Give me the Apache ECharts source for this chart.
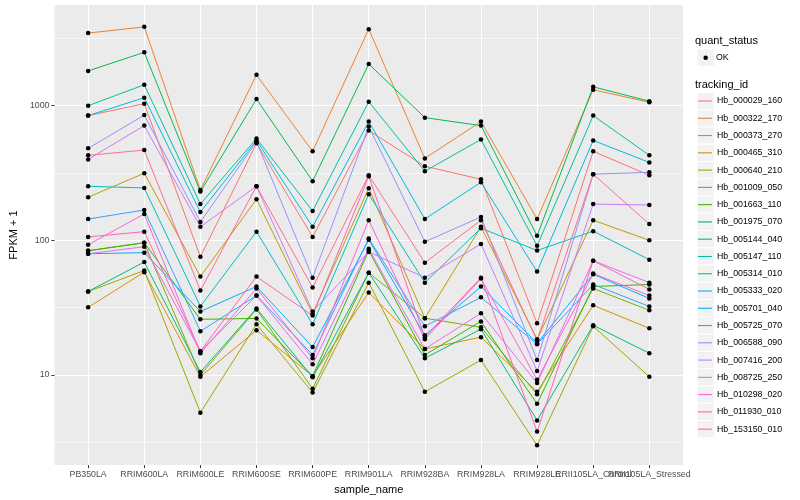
<!DOCTYPE html>
<html><head><meta charset="utf-8">
<script src="https://cdn.jsdelivr.net/npm/echarts@6/dist/echarts.min.js"></script>
<style>html,body{margin:0;padding:0;background:#fff}#c{width:800px;height:500px}</style>
</head><body><div id="c"></div>
<script>
const samples = ['PB350LA','RRIM600LA','RRIM600LE','RRIM600SE','RRIM600PE','RRIM901LA','RRIM928BA','RRIM928LA','RRIM928LE','RRII105LA_Control','RRII105LA_Stressed'];
const trackingIds = ['Hb_000029_160','Hb_000322_170','Hb_000373_270','Hb_000465_310','Hb_000640_210','Hb_001009_050','Hb_001663_110','Hb_001975_070','Hb_005144_040','Hb_005147_110','Hb_005314_010','Hb_005333_020','Hb_005701_040','Hb_005725_070','Hb_006588_090','Hb_007416_200','Hb_008725_250','Hb_010298_020','Hb_011930_010','Hb_153150_010'];
const yTicks = [10, 100, 1000];
const yMinorTicks = [3.162, 31.62, 316.2, 3162];

const Hb_000029_160 = [844, 1034, 75.5, 525, 106, 653, 355, 284, 24.2, 458, 304];
const Hb_000322_170 = [3460, 3850, 236, 1694, 458, 3700, 406, 762, 144, 1313, 1060];
const Hb_000373_270 = [31.8, 58, 9.7, 21.5, 9.8, 41, 15.6, 19.1, 7.5, 32.9, 22.2];
const Hb_000465_310 = [209, 315, 53.8, 202, 28.5, 244, 26.4, 126, 18.4, 141, 100];
const Hb_000640_210 = [41.7, 59.6, 5.25, 23.8, 7.4, 48.5, 7.5, 12.9, 3.0, 23, 9.7];
const Hb_001009_050 = [83.7, 96, 10, 30.7, 7.9, 57.5, 26.4, 22.6, 7.2, 43.9, 30.2];
const Hb_001663_110 = [83.7, 96, 25.9, 26.3, 9.8, 84, 14.1, 25, 6.1, 45.4, 47];
const Hb_001975_070 = [1812, 2490, 230, 1120, 275, 2040, 815, 711, 108, 1380, 1080];
const Hb_005144_040 = [41.7, 69, 10.5, 31.2, 9.6, 57.5, 13.3, 21.9, 4.6, 23.4, 14.5];
const Hb_005147_110 = [1000, 1430, 186, 570, 165, 1070, 326, 561, 91, 844, 428];
const Hb_005314_010 = [252, 245, 32.3, 116, 23.8, 220, 48.5, 123, 84, 117, 71.8];
const Hb_005333_020 = [844, 1146, 162, 552, 126, 762, 144, 270, 58.6, 552, 379];
const Hb_005701_040 = [79.5, 81, 29.6, 45.4, 16.1, 101, 19.7, 45.4, 17.2, 56, 37];
const Hb_005725_070 = [144, 168, 21.1, 38.9, 14.1, 103, 23, 37.7, 16.9, 47, 32.3];
const Hb_006588_090 = [482, 851, 137, 540, 52.8, 700, 97.5, 149, 12.9, 310, 320];
const Hb_007416_200 = [399, 711, 126, 252, 29.6, 82, 52.8, 94, 10.7, 186, 183];
const Hb_008725_250 = [79.5, 89.6, 15, 38.9, 12.0, 86.5, 15.6, 28.7, 8.7, 70.6, 48.5];
const Hb_010298_020 = [92.7, 157, 14.5, 43.9, 13.3, 141, 18.4, 52, 9.2, 56.6, 38.9];
const Hb_011930_010 = [106, 116, 15, 53.8, 27.6, 299, 19.1, 52.8, 3.8, 70.6, 43.2];
const Hb_153150_010 = [428, 468, 42.4, 252, 44.6, 304, 68.2, 141, 18.1, 310, 132];

const seriesValues = [Hb_000029_160, Hb_000322_170, Hb_000373_270, Hb_000465_310, Hb_000640_210, Hb_001009_050, Hb_001663_110, Hb_001975_070, Hb_005144_040, Hb_005147_110, Hb_005314_010, Hb_005333_020, Hb_005701_040, Hb_005725_070, Hb_006588_090, Hb_007416_200, Hb_008725_250, Hb_010298_020, Hb_011930_010, Hb_153150_010];

const palette = ['#F8766D','#EA8331','#D89000','#C09B00','#A3A500','#7CAE00','#39B600','#00BB4E','#00BF7D','#00C1A3','#00BFC4','#00BAE0','#00B0F6','#35A2FF','#9590FF','#C77CFF','#E76BF3','#FA62DB','#FF62BC','#FF6C91'];

const font = 'Liberation Sans, Arial, Helvetica, sans-serif';
const xIdx = samples.map((_, i) => i);
// labels split over two axes so ECharts does not hide the overlapping pair
const altIdx = [xIdx.length - 2];
const mainIdx = xIdx.filter(i => altIdx.indexOf(i) < 0);
const keyH = 17.27;

const lineSeries = seriesValues.map((arr, k) => ({
  type: 'line', name: trackingIds[k],
  data: arr.map((v, i) => [i, v]),
  symbol: 'none', color: palette[k],
  lineStyle: { width: 1, color: palette[k] },
  itemStyle: { color: palette[k] },
  z: 2, silent: true
}));
const pointData = [];
seriesValues.forEach(arr => arr.forEach((v, i) => pointData.push([i, v])));
const pointSeries = { type: 'scatter', name: 'OK', data: pointData, symbol: 'circle', symbolSize: 4.5, itemStyle: { color: '#000', opacity: 1 }, z: 3, silent: true };

const keyBoxes = [];
keyBoxes.push({ type: 'rect', shape: { x: 697, y: 49, width: 17.3, height: keyH }, style: { fill: '#F2F2F2', stroke: '#fff', lineWidth: 1 }, z: 0 });
trackingIds.forEach((_, i) => keyBoxes.push({ type: 'rect', shape: { x: 697, y: 92.4 + i * keyH, width: 17.3, height: keyH }, style: { fill: '#F2F2F2', stroke: '#fff', lineWidth: 1 }, z: 0 }));

const labelStyle = { fontSize: 8.8, color: '#4D4D4D', margin: 5, fontFamily: font, hideOverlap: false };

const chart = echarts.init(document.getElementById('c'), null, { renderer: 'canvas' });
chart.setOption({
  animation: false,
  backgroundColor: '#fff',
  textStyle: { fontFamily: font },
  title: [
    { text: 'quant_status', left: 695, top: 35.5, padding: 0, textStyle: { fontSize: 11, fontWeight: 'normal', color: '#000', fontFamily: font } },
    { text: 'tracking_id', left: 695, top: 79, padding: 0, textStyle: { fontSize: 11, fontWeight: 'normal', color: '#000', fontFamily: font } }
  ],
  graphic: keyBoxes,
  legend: [
    { data: ['OK'], orient: 'vertical', left: 703.4, top: 49, padding: 0, itemWidth: 4.5, itemHeight: 4.5, icon: 'circle', selectedMode: false,
      itemStyle: { color: '#000' },
      textStyle: { fontSize: 8.8, color: '#000', fontFamily: font, lineHeight: keyH, padding: [0, 0, 0, 3] } },
    { data: trackingIds, orient: 'vertical', left: 698, top: 92.4, padding: 0, itemWidth: 14, itemHeight: 14, itemGap: 0, selectedMode: false,
      icon: 'path://M0 0h14v1.1h-14z',
      textStyle: { fontSize: 8.8, color: '#000', fontFamily: font, lineHeight: keyH } }
  ],
  grid: { left: 45, right: 117, top: 5, bottom: 32, show: true, backgroundColor: '#EBEBEB', borderWidth: 0 },
  xAxis: [
    {
      type: 'value', min: -0.6, max: 10.6, position: 'bottom',
      axisLine: { show: true, onZero: false, lineStyle: { color: 'rgba(0,0,0,0)' } },
      axisTick: { show: true, customValues: xIdx, length: 3, lineStyle: { color: '#333', width: 1 } },
      axisLabel: Object.assign({ customValues: mainIdx, formatter: v => samples[Math.round(v)], showMinLabel: true, showMaxLabel: true }, labelStyle),
      splitLine: { show: true, lineStyle: { color: '#fff', width: 1.1 } },
      name: 'sample_name', nameLocation: 'middle', nameGap: 14,
      nameTextStyle: { fontSize: 11, color: '#000', fontFamily: font }
    },
    {
      type: 'value', min: -0.6, max: 10.6, position: 'bottom',
      axisLine: { show: false, onZero: false },
      axisTick: { show: false, customValues: altIdx },
      axisLabel: Object.assign({ customValues: altIdx, formatter: v => samples[Math.round(v)], showMinLabel: true, showMaxLabel: true }, labelStyle),
      splitLine: { show: false }
    }
  ],
  yAxis: [
    {
      type: 'log', logBase: 10, min: 2.141, max: 5594,
      axisLine: { show: true, onZero: false, lineStyle: { color: 'rgba(0,0,0,0)' } },
      axisTick: { show: true, customValues: yTicks, length: 3, lineStyle: { color: '#333', width: 1 } },
      axisLabel: { customValues: yTicks, formatter: v => String(v), fontSize: 8.8, color: '#4D4D4D', margin: 5, fontFamily: font, showMinLabel: true, showMaxLabel: true },
      splitLine: { show: true, lineStyle: { color: '#fff', width: 1.1 } },
      name: 'FPKM + 1', nameLocation: 'middle', nameGap: 26, nameRotate: 90,
      nameTextStyle: { fontSize: 11, color: '#000', fontFamily: font }
    },
    {
      type: 'log', logBase: 10, min: 2.141, max: 5594, position: 'right',
      axisLine: { show: false, onZero: false },
      axisTick: { show: false, customValues: yMinorTicks },
      axisLabel: { show: false, customValues: yMinorTicks },
      splitLine: { show: true, lineStyle: { color: '#fff', width: 0.55 } }
    }
  ],
  series: lineSeries.concat([pointSeries])
});
</script></body></html>
